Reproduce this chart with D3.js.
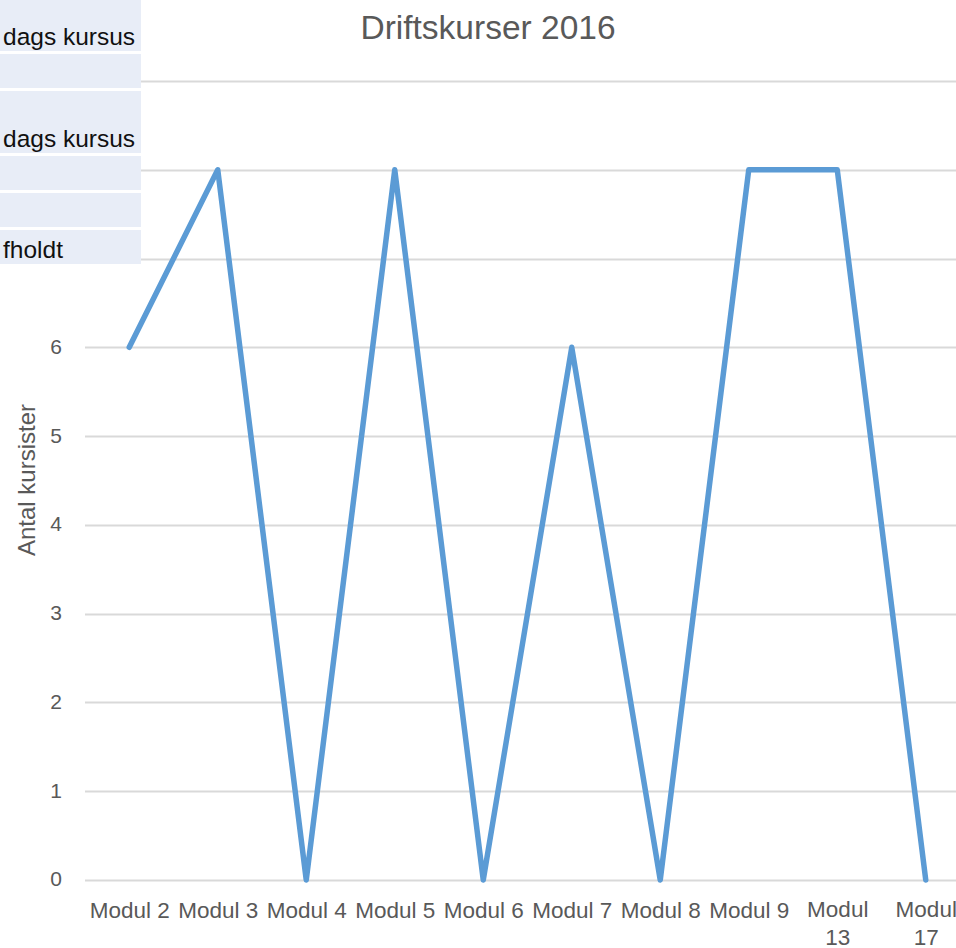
<!DOCTYPE html>
<html>
<head>
<meta charset="utf-8">
<script src="https://cdn.jsdelivr.net/npm/d3@7"></script>
<style>
  html, body { margin: 0; padding: 0; background: #fff; overflow: hidden; }
  svg { display: block; }
</style>
</head>
<body>
<svg id="chart" width="956" height="948"></svg>
<script>
// ---- data ----
const categories = ["Modul 2", "Modul 3", "Modul 4", "Modul 5", "Modul 6", "Modul 7", "Modul 8", "Modul 9", "Modul 13", "Modul 17"];
const values = [6, 8, 0, 8, 0, 6, 0, 8, 8, 0];
const yTicks = [0, 1, 2, 3, 4, 5, 6, 7, 8, 9];
const chartTitle = "Driftskurser 2016";
const yAxisTitle = "Antal kursister";
// overlapping spreadsheet cells (top-left)
const cellTexts = ["dags kursus", "", "dags kursus", "", "", "fholdt"];
const cellHeights = [51, 34, 62, 34, 34, 34];

// ---- layout ----
const W = 956, H = 948;
const plot = { left: 85, right: 970, top: 81, bottom: 880 };
const font = "'Liberation Sans', Arial, sans-serif";
const textColor = "#595959";

const svg = d3.select("#chart");

const x = d3.scalePoint().domain(categories).range([plot.left, plot.right]).padding(0.5);
const y = d3.scaleLinear().domain([0, 9]).range([plot.bottom, plot.top]);

// overlay geometry
const gap = 3;
let acc = 0;
const cells = cellHeights.map((h, i) => {
  const c = { y0: acc, h: h, text: cellTexts[i] };
  acc += h + gap;
  return c;
});
const overlayBottom = acc - gap;

// gridlines
svg.append("g").selectAll("line").data(yTicks).join("line")
  .attr("x1", plot.left).attr("x2", W)
  .attr("y1", d => Math.round(y(d)) + 0.5).attr("y2", d => Math.round(y(d)) + 0.5)
  .attr("stroke", "#d9d9d9").attr("stroke-width", 2);

// y axis tick labels (those hidden behind the overlay are not drawn)
const yAxis = d3.axisLeft(y).tickValues(yTicks.filter(t => y(t) > overlayBottom + 8))
  .tickSize(0).tickPadding(0).tickFormat(d3.format("d"));
const gy = svg.append("g").attr("transform", `translate(62,0)`).call(yAxis);
gy.select(".domain").remove();
gy.selectAll("text").attr("font-family", font).attr("font-size", 21).attr("fill", textColor)
  .attr("dy", "0.28em");

// x axis labels with wrapping
const xAxis = d3.axisBottom(x).tickSize(0).tickPadding(0);
const gx = svg.append("g").attr("transform", `translate(0,${plot.bottom})`).call(xAxis);
gx.select(".domain").remove();
gx.selectAll("text")
  .attr("font-family", font).attr("font-size", 22.5).attr("fill", textColor)
  .attr("y", 38).attr("dy", 0)
  .each(function(d) {
    const t = d3.select(this);
    if (this.getComputedTextLength() > x.step() - 2) {
      const words = d.split(" ");
      t.text(null);
      words.forEach((w, i) => {
        t.append("tspan").attr("x", 0).attr("y", 37 + i * 28).text(w);
      });
    }
  });

// line
const line = d3.line().x((d, i) => x(categories[i])).y(d => y(d));
svg.append("path").datum(values)
  .attr("d", line)
  .attr("fill", "none")
  .attr("stroke", "#5b9bd5")
  .attr("stroke-width", 5.5)
  .attr("stroke-linejoin", "round")
  .attr("stroke-linecap", "round");

// title
svg.append("text").attr("x", 488).attr("y", 39).attr("text-anchor", "middle")
  .attr("font-family", font).attr("font-size", 33.5).attr("fill", textColor)
  .text(chartTitle);

// y axis title
svg.append("text").attr("transform", `translate(35,480) rotate(-90)`).attr("text-anchor", "middle")
  .attr("font-family", font).attr("font-size", 24).attr("fill", textColor)
  .text(yAxisTitle);

// spreadsheet cell overlay
const cg = svg.append("g");
cg.selectAll("rect").data(cells).join("rect")
  .attr("x", 0).attr("y", d => d.y0).attr("width", 141).attr("height", d => d.h)
  .attr("fill", "#e8edf7");
cg.selectAll("text").data(cells).join("text")
  .attr("x", 3).attr("y", d => d.y0 + d.h - 6.5)
  .attr("font-family", font).attr("font-size", 24.5).attr("fill", "#111")
  .text(d => d.text);
</script>
</body>
</html>
